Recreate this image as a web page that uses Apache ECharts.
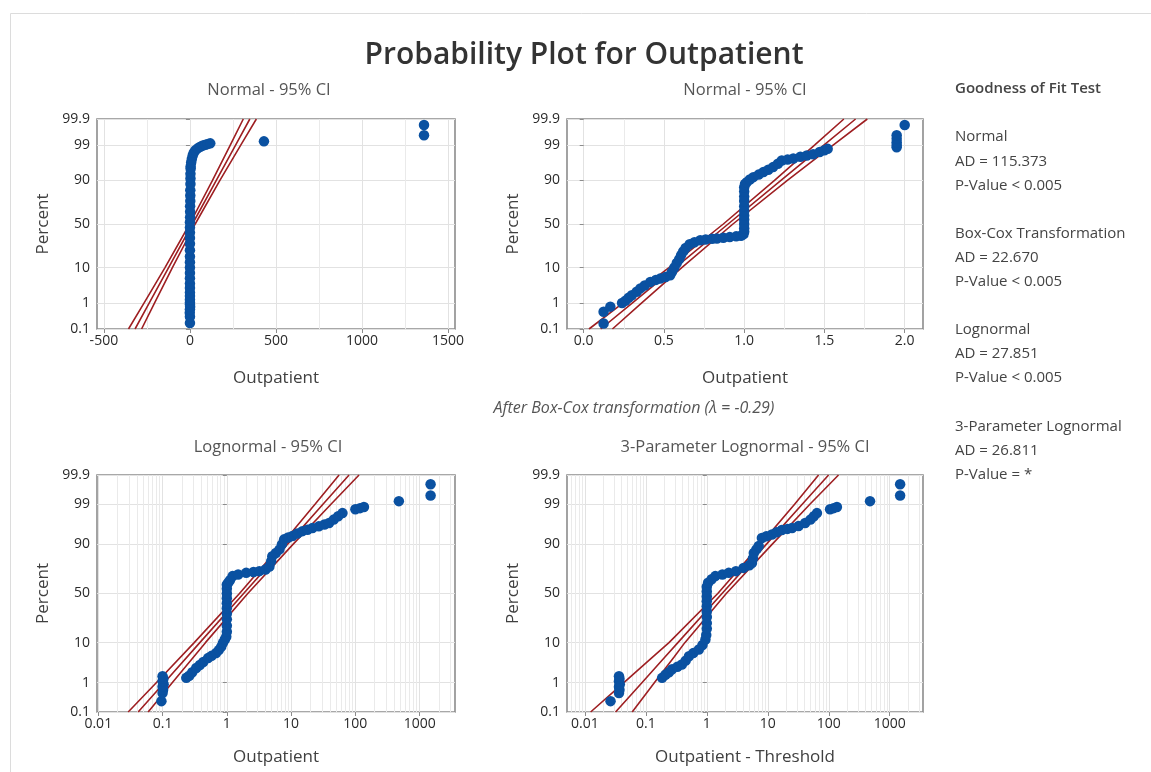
<!DOCTYPE html>
<html><head><meta charset="utf-8">
<script src="https://cdn.jsdelivr.net/npm/echarts@6/dist/echarts.min.js"></script>
<style>html,body{margin:0;padding:0;background:#fff}#c{width:1151px;height:772px}</style>
</head><body><div id="c"></div>
<script>
// ---------- tick labels ----------
const percentTicks = [0.1, 1, 10, 50, 90, 99, 99.9];
const normalTicks = [-500, 0, 500, 1000, 1500];
const normalMinor = [-250, 250, 750, 1250];
const boxcoxTicks = [0, 0.5, 1, 1.5, 2];
const boxcoxMinor = [0.25, 0.75, 1.25, 1.75];
const logTicks = [0.01, 0.1, 1, 10, 100, 1000];
const logMinorMultipliers = [2, 3, 4, 5, 6, 7, 8, 9];

// ---------- data: [value, percent] ----------
const normalPoints = [[0,0.18],[0,0.32],[-1,0.45],[0,0.6],[1,0.75],[0,0.9],[0,1.05],[0,1.3],[0,1.7],[0,2.2],[0,3],[0,4],[0,5.5],[0,7.5],[0,10],[0,13],[0,17],[0,22],[0,28],[0,34],[0,40],[0,46],[0,52],[1,58],[1,64],[1,70],[2,75],[2,80],[2,84],[3,88],[3,91],[3,93],[4,94.8],[4,95.5],[7,96.5],[11,97.2],[16,97.8],[22,98.2],[32,98.5],[45,98.7],[60,98.85],[75,98.95],[90,99.02],[105,99.08],[118,99.12],[430,99.25],[1360,99.55],[1360,99.82]];
const boxcoxPoints = [[0.124,0.17],[0.124,0.49],[0.166,0.75],[0.239,1.0],[0.26,1.2],[0.28,1.5],[0.30,1.8],[0.33,2.3],[0.353,2.9],[0.38,3.5],[0.415,4.4],[0.45,5.0],[0.477,5.4],[0.51,5.9],[0.539,6.6],[0.55,8],[0.565,10],[0.58,12.5],[0.595,15],[0.607,18],[0.62,21],[0.635,24],[0.66,27.5],[0.69,29.5],[0.726,31.6],[0.76,32.5],[0.8,33.2],[0.83,33.5],[0.87,34.2],[0.91,35],[0.95,35.8],[0.98,36.5],[0.995,38],[1.0,41],[1.0,45],[1.0,50],[1.0,55],[1.0,60],[1.0,65],[1.0,70],[1.0,75],[1.0,79],[1.0,83],[1.0,86],[1.005,88],[1.016,89],[1.035,90.5],[1.057,91.6],[1.09,92.7],[1.12,93.7],[1.15,94.5],[1.18,95.3],[1.21,96.2],[1.234,96.9],[1.27,97.1],[1.306,97.3],[1.35,97.6],[1.39,97.8],[1.43,98.0],[1.47,98.3],[1.5,98.5],[1.52,98.65],[1.95,98.8],[1.95,99.0],[1.95,99.2],[1.95,99.4],[1.95,99.55],[2.0,99.82]];
const lognormalPoints = [[0.096,0.25],[0.1,0.47],[0.102,0.6],[0.1,0.75],[0.104,0.9],[0.1,1.1],[0.103,1.3],[0.1,1.54],[0.234,1.39],[0.26,1.6],[0.29,2.0],[0.334,2.6],[0.38,3.1],[0.43,3.7],[0.51,4.6],[0.58,5.2],[0.68,6.0],[0.75,7.0],[0.82,8.3],[0.87,9.9],[0.93,11.5],[0.98,13],[1,16],[1,20],[1,25],[1,30],[1,35],[1,40],[1,45],[1,50],[1,55],[1,59],[1.05,61],[1.12,63.5],[1.23,67.5],[1.5,69],[2.0,70.5],[2.6,71.3],[3.2,72],[4.0,73.5],[4.6,76],[4.9,80],[5.1,83.5],[5.8,85.5],[6.6,87.5],[7.2,90],[7.8,92.1],[9,92.8],[10.5,93.3],[12.5,94.1],[15,94.8],[18,95.2],[21.5,95.6],[27,96.0],[33,96.4],[39,96.7],[46,97.3],[54,97.8],[63,98.2],[100,98.6],[118,98.7],[136,98.8],[475,99.2],[1480,99.47],[1480,99.78]];
const threeParamPoints = [[0.0264,0.25],[0.0363,0.47],[0.037,0.6],[0.0363,0.75],[0.0375,0.9],[0.0363,1.1],[0.037,1.3],[0.0363,1.54],[0.185,1.39],[0.21,1.7],[0.24,2.0],[0.27,2.4],[0.33,2.8],[0.39,3.2],[0.45,4.0],[0.51,5.1],[0.6,6.0],[0.74,7.2],[0.85,9],[0.95,11.5],[0.98,14],[1,18],[1,22],[1,27],[1,32],[1,37],[1,42],[1,47],[1,52],[1,57],[1.05,61],[1.2,64.5],[1.38,67.5],[1.8,69],[2.29,70.5],[3.0,72],[4.0,74.8],[5.0,77],[5.5,78.7],[5.7,82],[5.9,85.5],[6.5,87.5],[7.1,89.2],[8.0,92.6],[9.5,93.2],[11.7,93.8],[14,94.5],[17,95.1],[21,95.4],[25,95.6],[32,96.1],[41,96.7],[50,97.3],[57,97.8],[64,98.2],[105,98.6],[120,98.7],[136,98.8],[475,99.2],[1480,99.47],[1480,99.78]];

// ---------- fitted lines and 95% CI (x at given percents) ----------
const fitPercents = [0.1, 1, 10, 50, 90, 99, 99.9];
const normalFitLow = [-357, -267, -145, -1.5, 131, 235, 310];
const normalFitMid = [-319, -237, -124, 14.5, 153, 266, 348];
const normalFitHigh = [-281, -206, -102, 30.5, 174, 296, 386];
const boxcoxFitLow = [0.033, 0.244, 0.531, 0.87, 1.189, 1.440, 1.621];
const boxcoxFitMid = [0.106, 0.302, 0.571, 0.90, 1.229, 1.498, 1.694];
const boxcoxFitHigh = [0.179, 0.360, 0.611, 0.93, 1.269, 1.556, 1.767];
const lognormalFitLow = [0.0292, 0.0798, 0.311, 1.574, 7.16, 23.55, 55.8];
const lognormalFitMid = [0.0417, 0.1062, 0.380, 1.824, 8.75, 31.3, 79.8];
const lognormalFitHigh = [0.0596, 0.1413, 0.4645, 2.118, 10.69, 41.7, 114.0];
const fitPercents3p = [0.1, 1, 5, 10, 50, 90, 99, 99.9];
const threeParamFitLow = [0.01245, 0.04365, 0.1318, 0.2399, 1.514, 7.586, 27.54, 68.08];
const threeParamFitMid = [0.0319, 0.0863, 0.2094, 0.3357, 1.778, 9.44, 36.7, 99.3];
const threeParamFitHigh = [0.0598, 0.138, 0.2951, 0.4365, 2.089, 11.75, 48.98, 144.5];

// ---------- texts ----------
const mainTitle = 'Probability Plot for Outpatient';
const panelTitles = ['Normal - 95% CI', 'Normal - 95% CI', 'Lognormal - 95% CI', '3-Parameter Lognormal - 95% CI'];
const xNames = ['Outpatient', 'Outpatient', 'Outpatient', 'Outpatient - Threshold'];
const boxcoxNote = 'After Box-Cox transformation (λ = -0.29)';
const gofLines = [
  ['Goodness of Fit Test', true],
  ['', false],
  ['Normal', false], ['AD = 115.373', false], ['P-Value < 0.005', false], ['', false],
  ['Box-Cox Transformation', false], ['AD = 22.670', false], ['P-Value < 0.005', false], ['', false],
  ['Lognormal', false], ['AD = 27.851', false], ['P-Value < 0.005', false], ['', false],
  ['3-Parameter Lognormal', false], ['AD = 26.811', false], ['P-Value = *', false]
];

// ---------- normal probability scale ----------
function probit(p){
  const a=[-3.969683028665376e+01,2.209460984245205e+02,-2.759285104469687e+02,1.383577518672690e+02,-3.066479806614716e+01,2.506628277459239e+00];
  const b=[-5.447609879822406e+01,1.615858368580409e+02,-1.556989798598866e+02,6.680131188771972e+01,-1.328068155288572e+01];
  const c=[-7.784894002430293e-03,-3.223964580411365e-01,-2.400758277161838e+00,-2.549732539343734e+00,4.374664141464968e+00,2.938163982698783e+00];
  const d=[7.784695709041462e-03,3.224671290700398e-01,2.445134137142996e+00,3.754408661907416e+00];
  const pl=0.02425; let q,r;
  if(p<pl){q=Math.sqrt(-2*Math.log(p));return (((((c[0]*q+c[1])*q+c[2])*q+c[3])*q+c[4])*q+c[5])/((((d[0]*q+d[1])*q+d[2])*q+d[3])*q+1);}
  if(p<=1-pl){q=p-0.5;r=q*q;return (((((a[0]*r+a[1])*r+a[2])*r+a[3])*r+a[4])*r+a[5])*q/(((((b[0]*r+b[1])*r+b[2])*r+b[3])*r+b[4])*r+1);}
  q=Math.sqrt(-2*Math.log(1-p));return -(((((c[0]*q+c[1])*q+c[2])*q+c[3])*q+c[4])*q+c[5])/((((d[0]*q+d[1])*q+d[2])*q+d[3])*q+1);
}
const zOf = pct => probit(pct/100);
const zTicks = percentTicks.map(zOf);
const zMin = zOf(0.1), zMax = zOf(99.9);

const ident = v => v;
const lg = v => Math.log10(v);
const logMinor = [];
[-3,-2,-1,0,1,2,3].forEach(k => logMinorMultipliers.forEach(m => logMinor.push(m*Math.pow(10,k))));

const panels = [
  {grid:{left:97,top:119,width:358,height:210}, min:-540, max:1540, ticks:normalTicks, minor:normalMinor, tf:ident,
   fmt:v=>String(Math.round(v)), pts:normalPoints, pct:fitPercents, fit:[normalFitLow,normalFitMid,normalFitHigh], xGap:41},
  {grid:{left:567,top:119,width:356,height:210}, min:-0.104, max:2.114, ticks:boxcoxTicks, minor:boxcoxMinor, tf:ident,
   fmt:v=>v.toFixed(1), pts:boxcoxPoints, pct:fitPercents, fit:[boxcoxFitLow,boxcoxFitMid,boxcoxFitHigh], xGap:41},
  {grid:{left:97,top:475,width:358,height:237}, min:0.00955, max:3550, ticks:logTicks, minor:logMinor, tf:lg,
   fmt:null, pts:lognormalPoints, pct:fitPercents, fit:[lognormalFitLow,lognormalFitMid,lognormalFitHigh], xGap:37},
  {grid:{left:567,top:475,width:356,height:237}, min:0.0051, max:3510, ticks:logTicks, minor:logMinor, tf:lg,
   fmt:null, pts:threeParamPoints, pct:fitPercents3p, fit:[threeParamFitLow,threeParamFitMid,threeParamFitHigh], xGap:37}
];

const FONT = '"Open Sans", "Noto Sans", sans-serif';
const grids = [], xAxes = [], yAxes = [], series = [];
panels.forEach((P, i) => {
  grids.push(Object.assign({show:true, borderColor:'#8c8c8c', borderWidth:1.6, backgroundColor:'#fff', containLabel:false}, P.grid));
  const lo = P.tf(P.min), hi = P.tf(P.max);
  const tickVals = P.ticks.map(P.tf);
  const fmt = P.fmt || (v => { let best = P.ticks[0], bd = 1e9; P.ticks.forEach(t => { const dd = Math.abs(P.tf(t) - v); if (dd < bd) { bd = dd; best = t; } }); return String(best); });
  // minor grid axis
  xAxes.push({type:'value', gridIndex:i, min:lo, max:hi, position:'bottom', silent:true,
    axisLine:{show:false}, axisTick:{show:false, customValues:P.minor.map(P.tf).filter(v=>v>lo&&v<hi)},
    axisLabel:{show:false}, splitLine:{show:true, lineStyle:{color:'#eaeaea', width:1}}});
  // main axis
  xAxes.push({type:'value', gridIndex:i, min:lo, max:hi, position:'bottom',
    axisLine:{show:false},
    axisTick:{show:true, length:4, customValues:tickVals, lineStyle:{color:'#8c8c8c'}},
    axisLabel:{customValues:tickVals, formatter:fmt, color:'#2a2a2a', fontSize:14, fontFamily:FONT, margin:5},
    splitLine:{show:true, lineStyle:{color:'#e2e2e2', width:1}},
    name:xNames[i], nameLocation:'middle', nameGap:P.xGap,
    nameTextStyle:{color:'#404040', fontSize:17, fontFamily:FONT}});
  yAxes.push({type:'value', gridIndex:i, min:zMin, max:zMax,
    axisLine:{show:false},
    axisTick:{show:true, length:4, customValues:zTicks, lineStyle:{color:'#8c8c8c'}},
    axisLabel:{customValues:zTicks, color:'#2a2a2a', fontSize:14, fontFamily:FONT, margin:7,
      formatter:v => { let k = 0, bd = 1e9; zTicks.forEach((z,j)=>{ const dd=Math.abs(z-v); if(dd<bd){bd=dd;k=j;} }); return String(percentTicks[k]); }},
    splitLine:{show:true, lineStyle:{color:'#e2e2e2', width:1}},
    name:'Percent', nameLocation:'middle', nameGap:45,
    nameTextStyle:{color:'#404040', fontSize:17, fontFamily:FONT}});
  P.fit.forEach(arr => {
    series.push({type:'line', xAxisIndex:2*i+1, yAxisIndex:i, showSymbol:false, silent:true, z:2,
      lineStyle:{color:'#9e1f22', width:1.6}, clip:true,
      data: arr.map((v,j) => [P.tf(v), zOf(P.pct[j])])});
  });
  series.push({type:'scatter', xAxisIndex:2*i+1, yAxisIndex:i, symbolSize:10.5, z:3, silent:true,
    itemStyle:{color:'#0a51a1', opacity:1},
    data: P.pts.map(p => [P.tf(p[0]), zOf(p[1])])});
});

const graphic = [
  {type:'rect', silent:true, z:-10, shape:{x:10.5,y:13.5,width:1200,height:800}, style:{fill:'none', stroke:'#dcdcdc', lineWidth:1}},
  {type:'text', x:584, y:55, style:{text:mainTitle, fontSize:30, fontWeight:600, fontFamily:FONT, fill:'#333', align:'center', verticalAlign:'middle'}},
  {type:'text', x:269, y:90, style:{text:panelTitles[0], fontSize:16.5, fontFamily:FONT, fill:'#555', align:'center', verticalAlign:'middle'}},
  {type:'text', x:745, y:90, style:{text:panelTitles[1], fontSize:16.5, fontFamily:FONT, fill:'#555', align:'center', verticalAlign:'middle'}},
  {type:'text', x:268, y:447, style:{text:panelTitles[2], fontSize:16.5, fontFamily:FONT, fill:'#555', align:'center', verticalAlign:'middle'}},
  {type:'text', x:745, y:447, style:{text:panelTitles[3], fontSize:16.5, fontFamily:FONT, fill:'#555', align:'center', verticalAlign:'middle'}},
  {type:'text', x:634, y:408, style:{text:boxcoxNote, fontSize:16, fontStyle:'italic', fontFamily:FONT, fill:'#555', align:'center', verticalAlign:'middle'}}
];
gofLines.forEach((ln, k) => {
  if (!ln[0]) return;
  graphic.push({type:'text', x:955, y:89 + k*24.1, style:{text:ln[0], fontSize:15, fontWeight:ln[1]?600:400, fontFamily:FONT, fill:'#444', align:'left', verticalAlign:'middle'}});
});

const chart = echarts.init(document.getElementById('c'), null, {renderer:'canvas'});
chart.setOption({animation:false, backgroundColor:'#fff', grid:grids, xAxis:xAxes, yAxis:yAxes, series:series, graphic:graphic});
</script></body></html>
